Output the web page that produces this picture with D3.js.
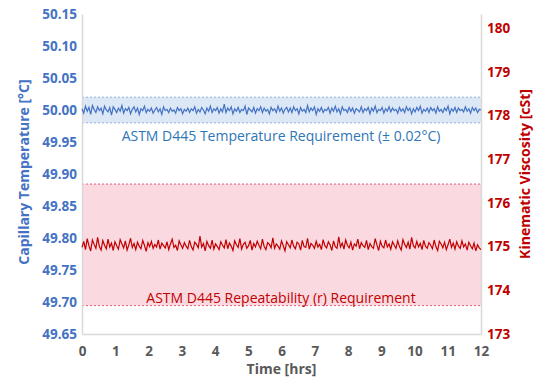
<!DOCTYPE html>
<head>
  <meta charset="utf-8">
  <script src="https://d3js.org/d3.v7.min.js"></script>
  <style>
    body { margin:0; background:#fff; }
    text { font-family: "Open Sans", sans-serif; }
  </style>
</head>
<body>
<script>
  // capillary temperature [°C], sampled every 0.05 h
  var temperature = [
    50.002, 49.995, 50.006, 49.998, 50.004, 49.993, 50.007, 50.001, 49.996, 50.005, 49.999, 50.003, 49.994, 50.006, 50.000, 49.997, 50.004, 49.992, 50.005, 50.001,
    49.996, 50.003, 49.998, 50.007, 49.995, 50.002, 49.999, 50.004, 49.994, 50.001, 50.005, 49.997, 50.003, 49.993, 50.002, 49.999, 50.006, 49.996, 50.001, 49.998,
    50.003, 49.995, 50.000, 50.004, 49.997, 50.002, 49.993, 50.005, 49.999, 50.001, 49.996, 50.003, 49.998, 50.000, 49.995, 50.004, 49.999, 50.002, 49.994, 50.001,
    49.998, 50.003, 49.996, 50.002, 49.999, 50.005, 49.995, 50.001, 49.997, 50.004, 50.000, 49.994, 50.003, 49.998, 50.006, 49.996, 50.002, 49.999, 50.004, 49.995,
    50.002, 49.997, 50.009, 49.996, 50.003, 49.999, 50.005, 49.994, 50.002, 49.998, 50.004, 49.996, 50.001, 49.999, 50.006, 49.993, 50.003, 50.000, 49.997, 50.004,
    49.995, 50.002, 49.999, 50.005, 49.996, 50.003, 49.998, 50.001, 49.994, 50.004, 49.999, 50.002, 49.996, 50.006, 49.998, 50.003, 49.995, 50.001, 50.004, 49.997,
    50.003, 49.996, 50.005, 49.999, 50.002, 49.994, 50.004, 49.998, 50.001, 49.996, 50.007, 49.997, 50.003, 49.999, 50.005, 49.993, 50.002, 49.998, 50.004, 49.996,
    50.001, 49.999, 50.004, 49.995, 50.003, 49.998, 50.006, 49.997, 50.002, 49.994, 50.005, 49.999, 50.001, 49.996, 50.004, 49.998, 50.003, 49.995, 50.002, 50.000,
    49.997, 50.005, 49.996, 50.002, 49.999, 50.004, 49.994, 50.003, 49.998, 50.006, 49.996, 50.001, 49.999, 50.004, 49.995, 50.002, 49.998, 50.005, 49.997, 50.003,
    49.999, 50.001, 49.995, 50.004, 49.998, 50.002, 49.996, 50.005, 49.999, 50.003, 49.994, 50.002, 49.997, 50.004, 49.999, 50.006, 49.995, 50.001, 49.998, 50.003,
    49.996, 50.004, 49.999, 50.002, 49.995, 50.005, 49.998, 50.001, 49.996, 50.003, 49.999, 50.006, 49.994, 50.002, 49.998, 50.004, 49.996, 50.003, 49.999, 50.001,
    49.997, 50.005, 49.998, 50.002, 49.995, 50.004, 49.999, 50.003, 49.996, 50.001, 50.000
  ];
  // kinematic viscosity [cSt], same sampling
  var viscosity = [
    174.98, 175.12, 174.93, 175.18, 175.02, 174.90, 175.15, 175.05, 174.96, 175.21, 175.00, 174.92, 175.14, 175.03, 174.95, 175.17, 174.99, 175.08, 174.91, 175.11,
    175.02, 174.94, 175.16, 175.06, 174.97, 175.13, 174.92, 175.04, 175.19, 174.98, 175.07, 174.93, 175.10, 175.01, 174.95, 175.14, 175.03, 174.89, 175.09, 175.00,
    175.12, 174.96, 175.05, 174.99, 175.15, 174.94, 175.08, 175.02, 174.97, 175.11, 174.93, 175.06, 175.17, 174.98, 175.03, 174.91, 175.13, 175.04, 174.96, 175.09,
    175.01, 174.95, 175.14, 175.00, 174.92, 175.10, 175.05, 174.97, 175.24, 174.99, 175.07, 174.90, 175.12, 175.02, 174.96, 175.15, 174.94, 175.06, 175.00, 174.93,
    175.11, 175.03, 174.97, 175.16, 174.95, 175.08, 175.01, 174.91, 175.13, 175.04, 174.98, 175.18, 174.94, 175.05, 175.10, 174.96, 175.02, 175.14, 174.92, 175.07,
    174.99, 175.12, 175.03, 174.95, 175.17, 175.00, 174.93, 175.09, 175.05, 174.97, 175.20, 174.96, 175.06, 175.01, 174.94, 175.13, 175.02, 174.90, 175.11, 175.04,
    174.97, 175.15, 175.01, 174.95, 175.10, 175.06, 174.92, 175.14, 175.00, 174.98, 175.19, 174.94, 175.07, 175.03, 174.96, 175.12, 174.99, 175.05, 174.93, 175.16,
    175.02, 174.97, 175.11, 175.04, 174.91, 175.13, 175.00, 174.96, 175.22, 174.99, 175.08, 174.94, 175.15, 175.03, 174.97, 175.10, 174.92, 175.06, 175.01, 175.17,
    174.95, 175.09, 175.02, 174.98, 175.14, 174.93, 175.07, 175.00, 174.96, 175.18, 175.04, 174.91, 175.12, 175.01, 174.97, 175.15, 174.99, 175.06, 174.94, 175.11,
    175.03, 174.96, 175.13, 175.00, 174.92, 175.16, 175.05, 174.98, 175.10, 174.94, 175.21, 175.02, 174.97, 175.12, 174.99, 175.07, 174.93, 175.14, 175.01, 174.96,
    175.09, 175.03, 174.95, 175.15, 175.00, 174.91, 175.12, 175.06, 174.97, 175.10, 174.93, 175.04, 175.17, 174.98, 175.08, 174.94, 175.11, 175.01, 174.96, 175.13,
    174.99, 175.06, 174.92, 175.10, 175.02, 174.95, 175.08, 174.90, 175.04, 174.97, 174.93
  ];
  var tempLimits = [49.98, 50.02];     // ± 0.02 °C
  var viscLimits = [173.65, 176.43];   // repeatability band
  var tempTicks = [49.65, 49.70, 49.75, 49.80, 49.85, 49.90, 49.95, 50.00, 50.05, 50.10, 50.15];
  var viscTicks = [173, 174, 175, 176, 177, 178, 179, 180];
  var hourTicks = d3.range(0, 13);

  var width = 534, height = 378;
  var mLeft = 82, mRight = 481, mTop = 14, mBottom = 334;
  var blue = "#4472c4", red = "#c00000", grey = "#595959";

  var x = d3.scaleLinear().domain([0, 12]).range([mLeft, mRight]);
  var yT = d3.scaleLinear().domain([49.65, 50.15]).range([mBottom, mTop]);
  var yV = d3.scaleLinear().domain([173, 180.32]).range([mBottom, mTop]);
  var tStep = 12 / (temperature.length - 1);
  var vStep = 12 / (viscosity.length - 1);

  var svg = d3.select("body").append("svg")
    .attr("width", width)
    .attr("height", height);

  // requirement bands
  svg.append("rect")
    .attr("x", x(0)).attr("width", x(12) - x(0))
    .attr("y", yV(viscLimits[1])).attr("height", yV(viscLimits[0]) - yV(viscLimits[1]))
    .attr("fill", "#fbd9e0");
  viscLimits.forEach(function(v) {
    svg.append("line")
      .attr("x1", x(0)).attr("x2", x(12)).attr("y1", yV(v)).attr("y2", yV(v))
      .attr("stroke", "#e0607a").attr("stroke-width", 1).attr("stroke-dasharray", "2,2");
  });
  svg.append("rect")
    .attr("x", x(0)).attr("width", x(12) - x(0))
    .attr("y", yT(tempLimits[1])).attr("height", yT(tempLimits[0]) - yT(tempLimits[1]))
    .attr("fill", "#dde8f6");
  tempLimits.forEach(function(v) {
    svg.append("line")
      .attr("x1", x(0)).attr("x2", x(12)).attr("y1", yT(v)).attr("y2", yT(v))
      .attr("stroke", "#8eb0e0").attr("stroke-width", 1).attr("stroke-dasharray", "2,2");
  });

  // axes
  var xAxis = svg.append("g")
    .attr("transform", "translate(0," + mBottom + ")")
    .call(d3.axisBottom(x).tickValues(hourTicks).tickSize(0).tickPadding(12));
  xAxis.select(".domain").attr("stroke", "#d9d9d9").attr("stroke-width", 1.5);
  xAxis.selectAll("text").attr("fill", grey).attr("font-size", "13.5px").attr("font-weight", "bold");

  var yAxisL = svg.append("g")
    .attr("transform", "translate(" + mLeft + ",0)")
    .call(d3.axisLeft(yT).tickValues(tempTicks).tickFormat(d3.format(".2f")).tickSize(0).tickPadding(5));
  yAxisL.select(".domain").attr("stroke", "#d9d9d9").attr("stroke-width", 1.5);
  yAxisL.selectAll("text").attr("fill", blue).attr("font-size", "13.5px").attr("font-weight", "bold");

  var yAxisR = svg.append("g")
    .attr("transform", "translate(" + mRight + ",0)")
    .call(d3.axisRight(yV).tickValues(viscTicks).tickSize(0).tickPadding(6));
  yAxisR.select(".domain").attr("stroke", "#d9d9d9").attr("stroke-width", 1.5);
  yAxisR.selectAll("text").attr("fill", red).attr("font-size", "13.5px").attr("font-weight", "bold");

  // series
  svg.append("path")
    .datum(viscosity)
    .attr("fill", "none").attr("stroke", red).attr("stroke-width", 1.2)
    .attr("d", d3.line().x(function(d, i) { return x(i * vStep); }).y(function(d) { return yV(d); }));
  svg.append("path")
    .datum(temperature)
    .attr("fill", "none").attr("stroke", blue).attr("stroke-width", 1.2)
    .attr("d", d3.line().x(function(d, i) { return x(i * tStep); }).y(function(d) { return yT(d); }));

  // annotations
  svg.append("text")
    .attr("x", 281).attr("y", yT(49.98) + 18)
    .attr("text-anchor", "middle").attr("font-size", "14px").attr("fill", "#2e75b6")
    .text("ASTM D445 Temperature Requirement (± 0.02°C)");
  svg.append("text")
    .attr("x", 281).attr("y", yV(viscLimits[0]) - 3)
    .attr("text-anchor", "middle").attr("font-size", "14px").attr("fill", red)
    .text("ASTM D445 Repeatability (r) Requirement");

  // axis titles
  svg.append("text")
    .attr("transform", "translate(29,172) rotate(-90)")
    .attr("text-anchor", "middle").attr("font-size", "14px").attr("font-weight", "bold").attr("fill", blue)
    .text("Capillary Temperature [°C]");
  svg.append("text")
    .attr("transform", "translate(530,174) rotate(-90)")
    .attr("text-anchor", "middle").attr("font-size", "14px").attr("font-weight", "bold").attr("fill", red)
    .text("Kinematic Viscosity [cSt]");
  svg.append("text")
    .attr("x", (mLeft + mRight) / 2).attr("y", 374)
    .attr("text-anchor", "middle").attr("font-size", "14px").attr("font-weight", "bold").attr("fill", grey)
    .text("Time [hrs]");
</script>
</body>
